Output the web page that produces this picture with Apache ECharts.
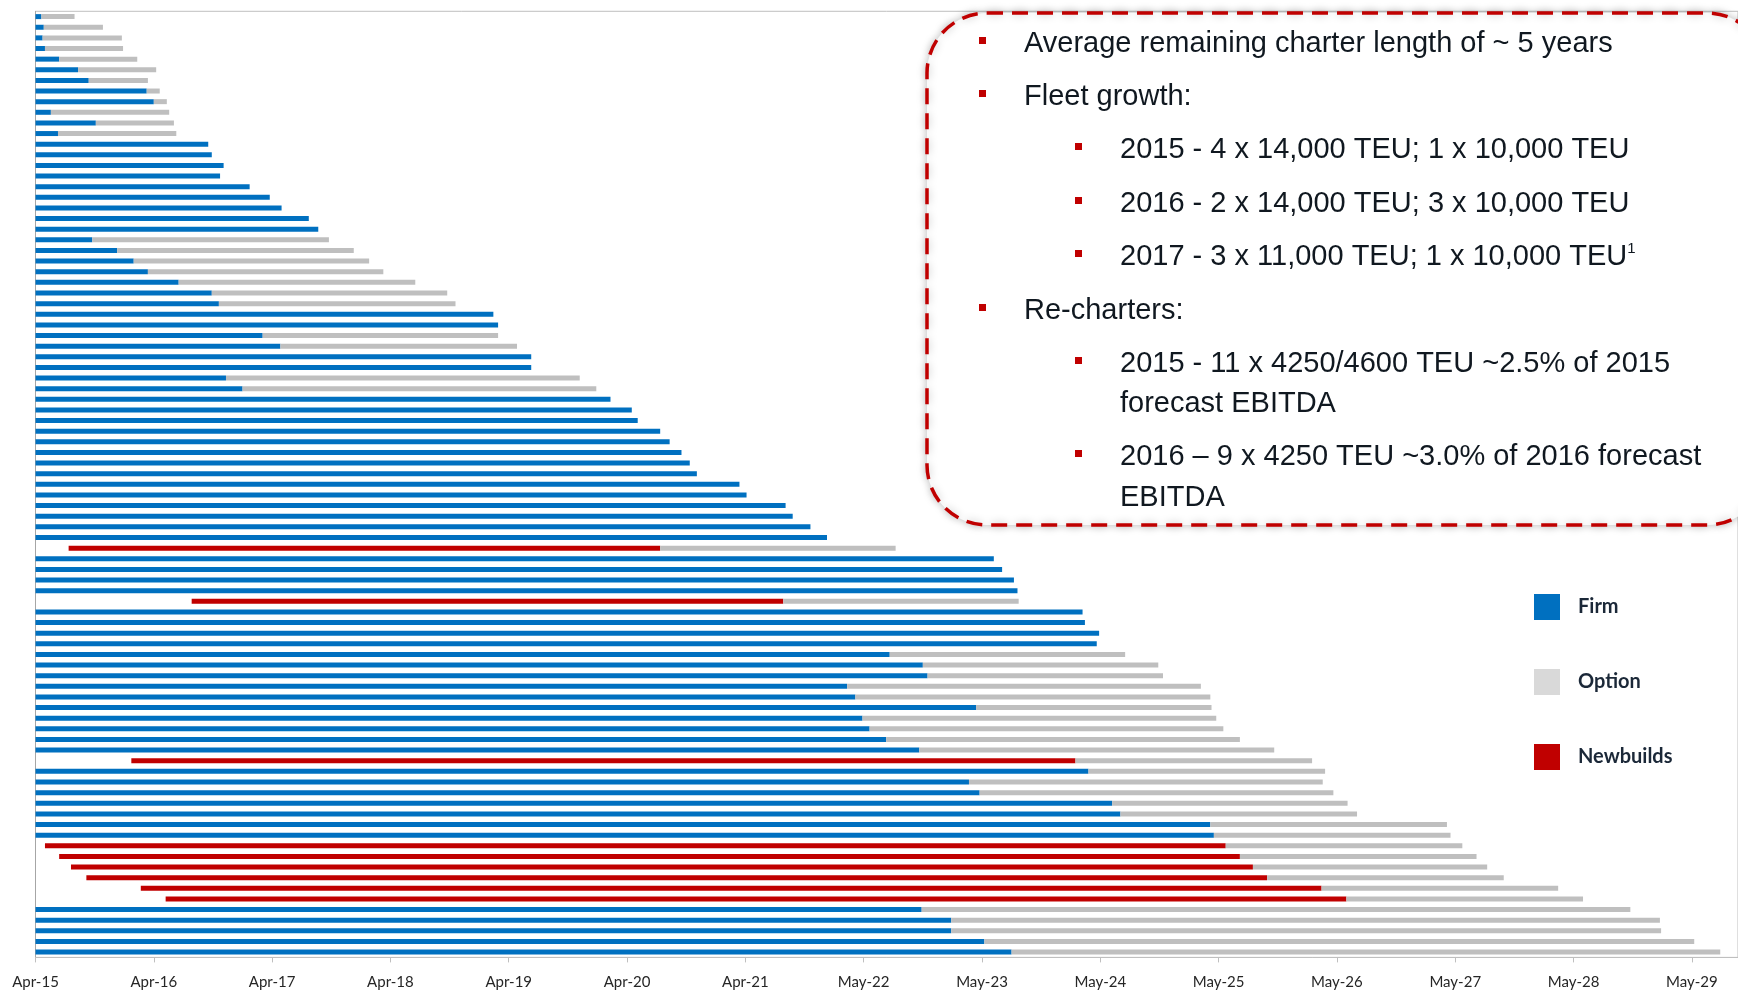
<!DOCTYPE html>
<html>
<head>
<meta charset="utf-8">
<script src="https://cdn.jsdelivr.net/npm/echarts@6/dist/echarts.min.js"></script>
<style>
  html, body { margin: 0; padding: 0; background: #fff; }
  #chart { width: 1738px; height: 991px; }
</style>
</head>
<body>
<div id="chart"></div>
<script>
// x axis is years counted from Apr-15
const tickLabels = ['Apr-15', 'Apr-16', 'Apr-17', 'Apr-18', 'Apr-19', 'Apr-20', 'Apr-21',
  'May-22', 'May-23', 'May-24', 'May-25', 'May-26', 'May-27', 'May-28', 'May-29'];

// charter start (only newbuilds start later than Apr-15)
const startYr = [
  0, 0, 0, 0, 0, 0, 0, 0, 0, 0, 0, 0, 0, 0, 0, 0, 0, 0, 0, 0,
  0, 0, 0, 0, 0, 0, 0, 0, 0, 0, 0, 0, 0, 0, 0, 0, 0, 0, 0, 0,
  0, 0, 0, 0, 0, 0, 0, 0, 0, 0, 0.28, 0, 0, 0, 0, 1.32, 0, 0, 0, 0,
  0, 0, 0, 0, 0, 0, 0, 0, 0, 0, 0.81, 0, 0, 0, 0, 0, 0, 0, 0.08, 0.20,
  0.30, 0.43, 0.89, 1.10, 0, 0, 0, 0, 0
];

// end of firm period
const firmEnd = [
  0.05, 0.07, 0.06, 0.08, 0.20, 0.36, 0.45, 0.94, 1.00, 0.13,
  0.51, 0.19, 1.46, 1.49, 1.59, 1.56, 1.81, 1.98, 2.08, 2.31,
  2.39, 0.48, 0.69, 0.83, 0.95, 1.21, 1.49, 1.55, 3.87, 3.91,
  1.92, 2.07, 4.19, 4.19, 1.61, 1.75, 4.86, 5.04, 5.09, 5.28,
  5.36, 5.46, 5.53, 5.59, 5.95, 6.01, 6.34, 6.40, 6.55, 6.69,
  5.28, 8.10, 8.17, 8.27, 8.30, 6.32, 8.85, 8.87, 8.99, 8.97,
  7.22, 7.50, 7.54, 6.86, 6.93, 7.95, 6.99, 7.05, 7.19, 7.47,
  8.79, 8.90, 7.89, 7.98, 9.10, 9.17, 9.93, 9.96, 10.06, 10.18,
  10.29, 10.41, 10.87, 11.08, 7.49, 7.74, 7.74, 8.02, 8.25
];

// end of option period (same as firmEnd when there is no option)
const optionEnd = [
  0.33, 0.57, 0.73, 0.74, 0.86, 1.02, 0.95, 1.05, 1.11, 1.13,
  1.17, 1.19, 1.46, 1.49, 1.59, 1.56, 1.81, 1.98, 2.08, 2.31,
  2.39, 2.48, 2.69, 2.82, 2.94, 3.21, 3.48, 3.55, 3.87, 3.91,
  3.91, 4.07, 4.19, 4.19, 4.60, 4.74, 4.86, 5.04, 5.09, 5.28,
  5.36, 5.46, 5.53, 5.59, 5.95, 6.01, 6.34, 6.40, 6.55, 6.69,
  7.27, 8.10, 8.17, 8.27, 8.30, 8.31, 8.85, 8.87, 8.99, 8.97,
  9.21, 9.49, 9.53, 9.85, 9.93, 9.94, 9.98, 10.04, 10.18, 10.47,
  10.79, 10.90, 10.88, 10.97, 11.09, 11.17, 11.93, 11.96, 12.06, 12.18,
  12.27, 12.41, 12.87, 13.08, 13.48, 13.73, 13.74, 14.02, 14.24
];

// rows (1-based) that are newbuilds
const newbuildRows = [51, 56, 71, 79, 80, 81, 82, 83, 84];

const vessels = startYr.map((_, i) => 'Vessel ' + (i + 1));

const BLUE = '#0070c0';
const RED = '#c00000';
const GREY = '#bfbfbf';

const isNew = i => newbuildRows.includes(i + 1);
const firmData = firmEnd.map((v, i) => isNew(i) ? 0 : +(v - startYr[i]).toFixed(2));
const newData = firmEnd.map((v, i) => isNew(i) ? +(v - startYr[i]).toFixed(2) : 0);
const optData = optionEnd.map((v, i) => +(v - firmEnd[i]).toFixed(2));

const chart = echarts.init(document.getElementById('chart'));

const txtColor = '#101820';
const boxFont = '"Liberation Sans", Arial, sans-serif';

function bullet(x, y) {
  return { type: 'rect', z: 20, shape: { x: x, y: y - 6, width: 7, height: 7 }, style: { fill: RED } };
}
function line(x, y, text) {
  return {
    type: 'text', z: 20, x: x, y: y,
    style: { text: text, fill: txtColor, font: '29px ' + boxFont, textVerticalAlign: 'middle' }
  };
}

const calloutLines = [
  bullet(979, 43), line(1024, 44, 'Average remaining charter length of ~ 5 years'),
  bullet(979, 96), line(1024, 97, 'Fleet growth:'),
  bullet(1075, 149), line(1120, 150, '2015 - 4 x 14,000 TEU; 1 x 10,000 TEU'),
  bullet(1075, 203), line(1120, 204, '2016 - 2 x 14,000 TEU; 3 x 10,000 TEU'),
  bullet(1075, 256),
  {
    type: 'text', z: 20, x: 1120, y: 257,
    style: {
      text: '{a|2017 - 3 x 11,000 TEU; 1 x 10,000 TEU}{s|1}',
      textVerticalAlign: 'middle',
      rich: {
        a: { fontSize: 29, fontFamily: boxFont, fill: txtColor, color: txtColor, lineHeight: 32 },
        s: { fontSize: 15, fontFamily: boxFont, fill: txtColor, color: txtColor, verticalAlign: 'top', lineHeight: 32 }
      }
    }
  },
  bullet(979, 310), line(1024, 311, 'Re-charters:'),
  bullet(1075, 363), line(1120, 364, '2015 - 11 x 4250/4600 TEU ~2.5% of 2015'),
  line(1120, 404, 'forecast EBITDA'),
  bullet(1075, 456), line(1120, 457, '2016 \u2013 9 x 4250 TEU ~3.0% of 2016 forecast'),
  line(1120, 498, 'EBITDA')
];

chart.setOption({
  animation: false,
  grid: {
    left: 35.5, right: 0, top: 11.3, bottom: 33.6,
    show: true, borderColor: '#bfbfbf', borderWidth: 1
  },
  legend: {
    orient: 'vertical',
    left: 1529, top: 589,
    itemWidth: 26, itemHeight: 26, itemGap: 49,
    icon: 'rect',
    selectedMode: false,
    textStyle: { fontFamily: 'Lato, sans-serif', fontWeight: 'bold', fontSize: 20, color: '#1b2838', padding: [0, 0, 0, 13] },
    data: [
      { name: 'Firm', itemStyle: { color: BLUE } },
      { name: 'Option', itemStyle: { color: '#d9d9d9' } },
      { name: 'Newbuilds', itemStyle: { color: RED } }
    ]
  },
  xAxis: {
    type: 'value', min: 0, max: 14.39, interval: 1,
    splitLine: { show: false },
    axisLine: { show: true, lineStyle: { color: '#bfbfbf' } },
    axisTick: { show: true, length: 5, lineStyle: { color: '#bfbfbf' } },
    axisLabel: {
      margin: 17, fontSize: 15, fontFamily: 'Lato, sans-serif', color: '#262626',
      showMaxLabel: false,
      formatter: v => Number.isInteger(v) ? (tickLabels[v] || '') : ''
    }
  },
  yAxis: {
    type: 'category', inverse: true, data: vessels,
    axisLine: { show: true, lineStyle: { color: '#a6a6a6' } },
    axisTick: { show: false },
    axisLabel: { show: false }
  },
  series: [
    { name: 'offset', type: 'bar', stack: 'c', barWidth: 5, silent: true,
      itemStyle: { color: 'transparent' }, data: startYr },
    { name: 'Firm', type: 'bar', stack: 'c', barWidth: 5, itemStyle: { color: BLUE }, data: firmData },
    { name: 'Newbuilds', type: 'bar', stack: 'c', barWidth: 5, itemStyle: { color: RED }, data: newData },
    { name: 'Option', type: 'bar', stack: 'c', barWidth: 5, itemStyle: { color: GREY }, data: optData }
  ],
  graphic: [
    {
      type: 'rect', z: 10,
      shape: { x: 927, y: 13, width: 840, height: 512, r: 60 },
      style: {
        fill: '#fff', stroke: RED, lineWidth: 3.5, lineDash: [16, 9],
        shadowBlur: 8, shadowColor: 'rgba(0,0,0,0.25)'
      }
    }
  ].concat(calloutLines)
});
</script>
</body>
</html>
